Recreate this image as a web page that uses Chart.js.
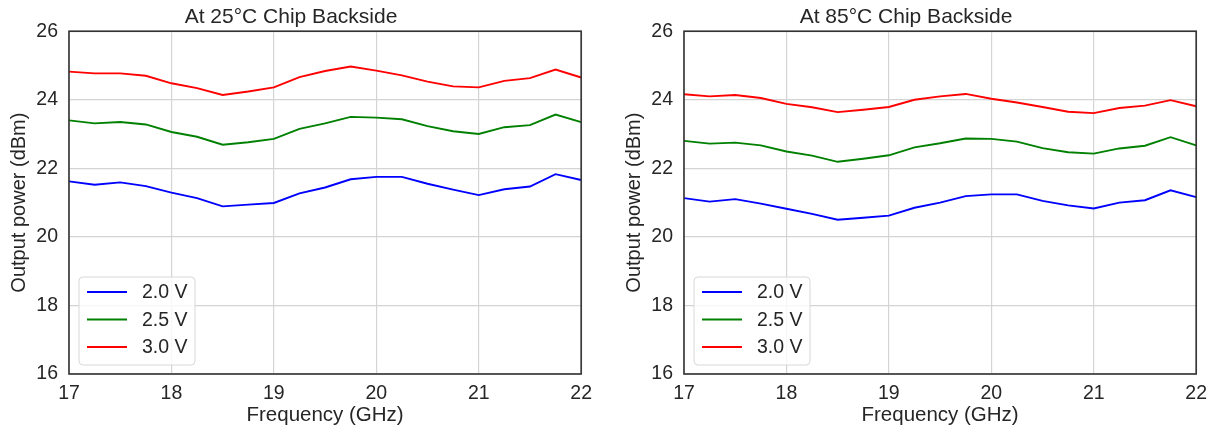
<!DOCTYPE html>
<html>
<head>
<meta charset="utf-8">
<script src="https://cdn.jsdelivr.net/npm/chart.js@4/dist/chart.umd.min.js"></script>
<style>
  html, body { margin: 0; padding: 0; background: #ffffff; }
  body { width: 1214px; height: 434px; position: relative; overflow: hidden; }
  .box { position: absolute; top: 0; width: 600px; height: 434px; }
  #b1 { left: 0px; }
  #b2 { left: 615px; }
</style>
</head>
<body>
<div class="box" id="b1"><canvas id="c1"></canvas></div>
<div class="box" id="b2"><canvas id="c2"></canvas></div>
<script>
// ---- data ----
const frequencies = [17, 17.25, 17.5, 17.75, 18, 18.25, 18.5, 18.75, 19, 19.25, 19.5, 19.75, 20, 20.25, 20.5, 20.75, 21, 21.25, 21.5, 21.75, 22];
const seriesLabels = ['2.0 V', '2.5 V', '3.0 V'];
const titles = ['At 25°C Chip Backside', 'At 85°C Chip Backside'];
const xTitle = 'Frequency (GHz)';
const yTitle = 'Output power (dBm)';

const p25_2v0 = [21.62, 21.52, 21.59, 21.48, 21.29, 21.13, 20.89, 20.94, 20.99, 21.27, 21.44, 21.68, 21.75, 21.75, 21.55, 21.38, 21.22, 21.39, 21.47, 21.83, 21.66];
const p25_2v5 = [23.40, 23.31, 23.35, 23.28, 23.06, 22.92, 22.69, 22.76, 22.86, 23.15, 23.31, 23.50, 23.48, 23.43, 23.23, 23.08, 23.00, 23.20, 23.26, 23.57, 23.35];
const p25_3v0 = [24.82, 24.77, 24.77, 24.70, 24.48, 24.34, 24.14, 24.24, 24.36, 24.66, 24.84, 24.97, 24.85, 24.71, 24.53, 24.39, 24.36, 24.55, 24.63, 24.88, 24.65];

const p85_2v0 = [21.13, 21.03, 21.10, 20.97, 20.82, 20.67, 20.50, 20.56, 20.62, 20.85, 21.00, 21.19, 21.24, 21.24, 21.05, 20.92, 20.83, 21.00, 21.07, 21.36, 21.16];
const p85_2v5 = [22.80, 22.72, 22.75, 22.67, 22.49, 22.37, 22.19, 22.28, 22.38, 22.61, 22.73, 22.87, 22.86, 22.78, 22.59, 22.47, 22.43, 22.58, 22.66, 22.91, 22.67];
const p85_3v0 = [24.16, 24.10, 24.14, 24.05, 23.88, 23.78, 23.64, 23.71, 23.79, 24.00, 24.10, 24.17, 24.03, 23.92, 23.79, 23.65, 23.61, 23.76, 23.83, 23.99, 23.81];

const colors = ['#0000ff', '#008000', '#ff0000'];
const textColor = '#262626';
const gridColor = '#d4d4d4';
const FONT = "'Liberation Sans', Arial, sans-serif";

function toPoints(vals) { return vals.map((v, i) => ({ x: frequencies[i], y: v })); }

const framePlugin = {
  id: 'frame',
  afterDraw(chart) {
    const { ctx, chartArea: a } = chart;
    ctx.save();
    // legend
    const lx = a.left + 10, ly = a.bottom - 97, lw = 116, lh = 88, r = 4;
    ctx.beginPath();
    ctx.moveTo(lx + r, ly);
    ctx.arcTo(lx + lw, ly, lx + lw, ly + lh, r);
    ctx.arcTo(lx + lw, ly + lh, lx, ly + lh, r);
    ctx.arcTo(lx, ly + lh, lx, ly, r);
    ctx.arcTo(lx, ly, lx + lw, ly, r);
    ctx.closePath();
    ctx.fillStyle = 'rgba(255,255,255,0.8)';
    ctx.fill();
    ctx.strokeStyle = '#d8d8d8';
    ctx.lineWidth = 1;
    ctx.stroke();
    ctx.font = '19.5px ' + FONT;
    ctx.textBaseline = 'middle';
    ctx.textAlign = 'left';
    chart.data.datasets.forEach((ds, i) => {
      const yy = a.bottom - 82 + i * 27.5;
      ctx.beginPath();
      ctx.moveTo(a.left + 18, yy);
      ctx.lineTo(a.left + 58, yy);
      ctx.strokeStyle = ds.borderColor;
      ctx.lineWidth = 1.8;
      ctx.stroke();
      ctx.fillStyle = textColor;
      ctx.fillText(ds.label, a.left + 73, yy + 1);
    });
    // frame
    ctx.strokeStyle = '#333333';
    ctx.lineWidth = 1.6;
    ctx.strokeRect(a.left, a.top, a.right - a.left, a.bottom - a.top);
    ctx.restore();
  }
};

function makeChart(id, title, sets) {
  return new Chart(document.getElementById(id), {
    type: 'line',
    data: {
      datasets: sets.map((vals, i) => ({
        label: seriesLabels[i],
        data: toPoints(vals),
        borderColor: colors[i],
        backgroundColor: colors[i],
        borderWidth: 1.9,
        pointRadius: 0,
        tension: 0,
        fill: false
      }))
    },
    options: {
      responsive: true,
      maintainAspectRatio: false,
      animation: false,
      events: [],
      layout: { padding: { left: 0, right: 18, top: 0, bottom: 0 } },
      plugins: {
        legend: { display: false },
        tooltip: { enabled: false },
        title: {
          display: true,
          text: title,
          color: textColor,
          font: { family: FONT, size: 21, weight: 'normal' },
          padding: { top: 5, bottom: 1 }
        }
      },
      scales: {
        x: {
          type: 'linear',
          min: 17, max: 22,
          afterFit(s) { s.height = 60; },
          ticks: { stepSize: 1, color: textColor, font: { family: FONT, size: 19.5 }, padding: 8, maxRotation: 0 },
          grid: { color: gridColor, lineWidth: 1.2, drawTicks: false },
          border: { display: false },
          title: { display: true, text: xTitle, color: textColor, font: { family: FONT, size: 20.5 }, padding: { top: 0, bottom: 6 } }
        },
        y: {
          min: 16, max: 26,
          afterFit(s) { s.width = 69; },
          ticks: { stepSize: 2, color: textColor, font: { family: FONT, size: 19.5 }, padding: 11 },
          grid: { color: gridColor, lineWidth: 1.2, drawTicks: false },
          border: { display: false },
          title: { display: true, text: yTitle, color: textColor, font: { family: FONT, size: 20 }, padding: { top: 7, bottom: 0 } }
        }
      }
    },
    plugins: [framePlugin]
  });
}

makeChart('c1', titles[0], [p25_2v0, p25_2v5, p25_3v0]);
makeChart('c2', titles[1], [p85_2v0, p85_2v5, p85_3v0]);
</script>
</body>
</html>
